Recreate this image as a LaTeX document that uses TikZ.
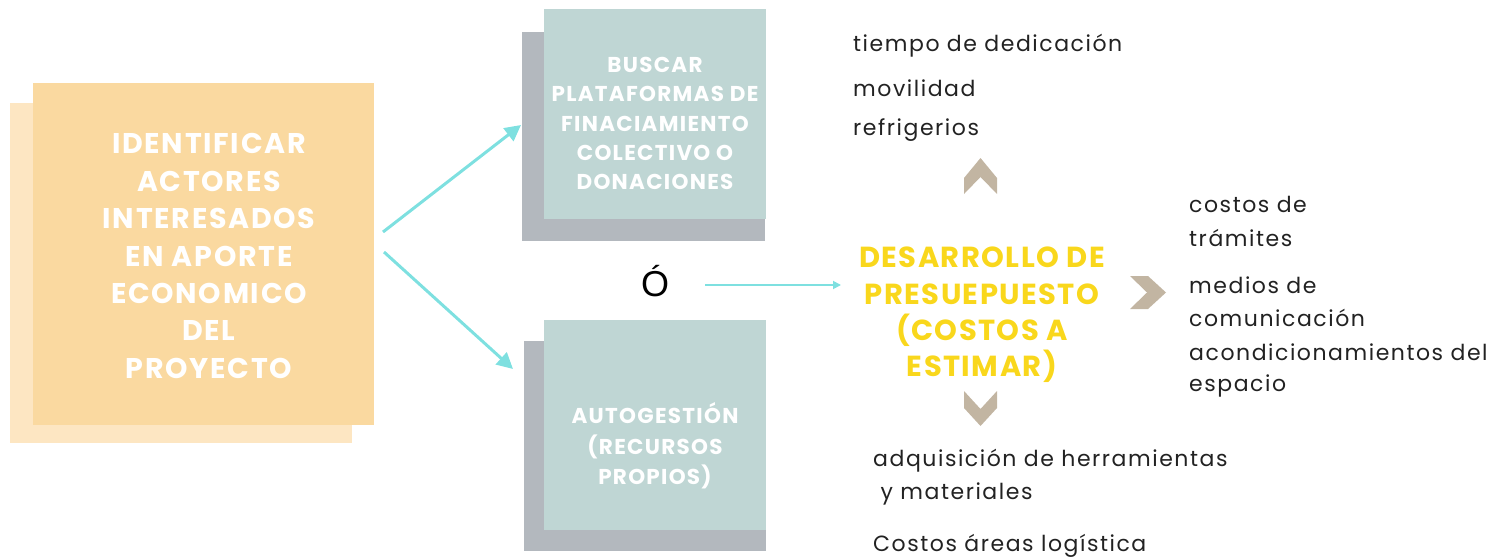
\documentclass[tikz,border=0pt]{standalone}
\usepackage{fontspec}
\setmainfont{Poppins}
\newfontfamily\ofont{Liberation Sans}
\newfontfamily\boxfont[LetterSpace=6]{Poppins}
\newfontfamily\devfont[LetterSpace=5]{Poppins}
\newfontfamily\itemfont[LetterSpace=7]{Poppins}
\definecolor{orfront}{HTML}{FAD9A0}
\definecolor{orback}{HTML}{FDE6C2}
\definecolor{tealfront}{HTML}{BFD6D4}
\definecolor{grayback}{HTML}{B3B8BE}
\definecolor{arrowc}{HTML}{7EE0E0}
\definecolor{yel}{HTML}{F9D71C}
\definecolor{chev}{HTML}{C2B5A2}
\definecolor{txt}{HTML}{222222}
\tikzset{
  panel/.style={anchor=north west, inner sep=0pt, outer sep=0pt, draw=none},
  boxtext/.style={text=white, align=center, inner sep=0pt},
  item/.style={anchor=west, inner sep=0pt, text=txt, font=\itemfont\fontsize{22}{26}\selectfont},
  conn/.style={draw=arrowc, line width=3pt, -{Triangle[length=16pt,width=16pt]}},
}
\usetikzlibrary{arrows.meta}
\begin{document}
\begin{tikzpicture}[x=1pt,y=-1pt]
\useasboundingbox (0,0) rectangle (1495,559);
% left orange panel
\node[panel, fill=orback, minimum width=342pt, minimum height=340pt] (orb) at (10,103) {};
\node[panel, fill=orfront, minimum width=341pt, minimum height=342pt] (orf) at (33,83) {};
\node[boxtext, font=\boxfont\bfseries\fontsize{28.5}{37.4}\selectfont] (ortxt) at (209,256)
  {IDENTIFICAR\\ACTORES\\INTERESADOS\\EN APORTE\\ECONOMICO\\DEL\\PROYECTO};
% top teal panel
\node[panel, fill=grayback, minimum width=243pt, minimum height=209pt] (tb) at (522,32) {};
\node[panel, fill=tealfront, minimum width=222pt, minimum height=210pt] (tf) at (544,9) {};
\node[boxtext, font=\boxfont\bfseries\fontsize{21.5}{29.3}\selectfont] (ttxt) at (655,123.5)
  {BUSCAR\\PLATAFORMAS DE\\FINACIAMIENTO\\COLECTIVO O\\DONACIONES};
% bottom teal panel
\node[panel, fill=grayback, minimum width=242pt, minimum height=210pt] (bb) at (524,341) {};
\node[panel, fill=tealfront, minimum width=222pt, minimum height=210pt] (bf) at (544,320) {};
\node[boxtext, font=\boxfont\bfseries\fontsize{21.5}{30.5}\selectfont] (btxt) at (655,446)
  {AUTOGESTIÓN\\(RECURSOS\\PROPIOS)};
% arrows from left panel
\coordinate (s1) at (383,232);
\coordinate (e1) at (521,125);
\coordinate (s2) at (384,252);
\coordinate (e2) at (513,369);
\draw[conn] (s1) -- (e1);
\draw[conn] (s2) -- (e2);
% O
\node[inner sep=0pt, font=\ofont\fontsize{36}{40}\selectfont] (o) at (655,281) {Ó};
\coordinate (a1) at (705,285);
\coordinate (a2) at (841,285);
\draw[draw=arrowc, line width=1.8pt, -{Triangle[length=8pt,width=8pt]}] (a1) -- (a2);
% central text
\node[boxtext, text=yel, font=\devfont\bfseries\fontsize{29}{36.3}\selectfont] (dev) at (982,315)
  {DESARROLLO DE\\PRESUEPUESTO\\(COSTOS A\\ESTIMAR)};
% chevrons
\fill[chev] (964,178) -- (980.5,158) -- (997,178) -- (997,194) -- (980.5,177) -- (964,194) -- cycle;
\fill[chev] (964,391) -- (980.5,409) -- (997,391) -- (997,408) -- (980.5,426) -- (964,408) -- cycle;
\fill[chev] (1130,276) -- (1148,276) -- (1166,292.5) -- (1148,309) -- (1130,309) -- (1147,292.5) -- cycle;
% top items
\node[item] (t1) at (853,46) {tiempo de dedicación};
\node[item] (t2) at (853,88) {movilidad};
\node[item] (t3) at (853,130) {refrigerios};
% right items
\node[item] (r1) at (1189,204) {costos de};
\node[item] (r2) at (1189,238) {trámites};
\node[item] (r3) at (1189,285) {medios de};
\node[item] (r4) at (1189,318) {comunicación};
\node[item] (r5) at (1189,352) {acondicionamientos del};
\node[item] (r6) at (1189,386) {espacio};
% bottom items
\node[item] (d1) at (873,461) {adquisición de herramientas};
\node[item] (d2) at (873,494) {\ y materiales};
\node[item] (d3) at (873,546) {Costos áreas logística};
\end{tikzpicture}
\end{document}
